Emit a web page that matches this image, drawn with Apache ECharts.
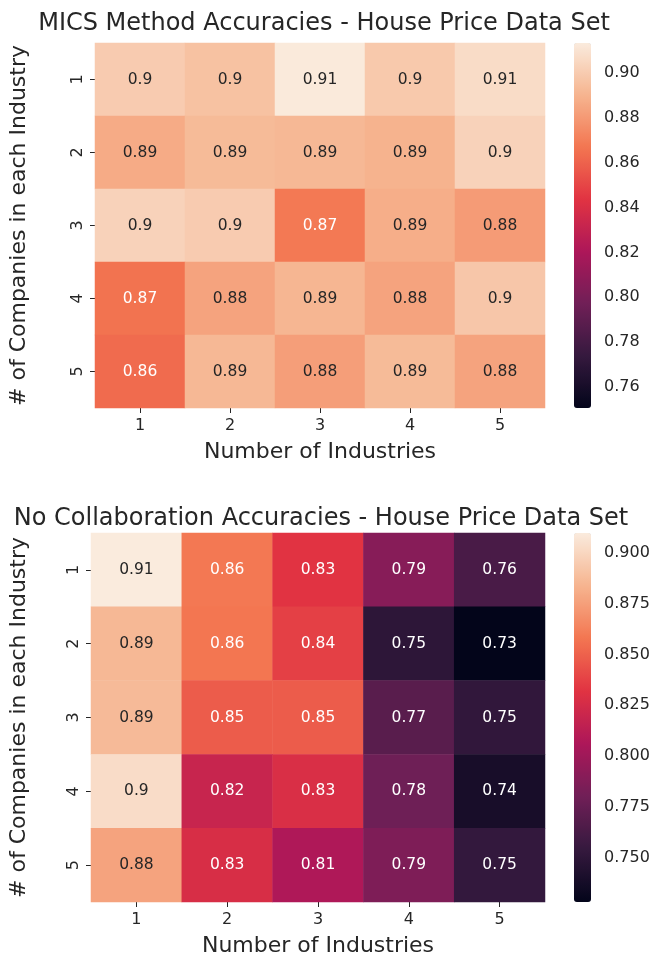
<!DOCTYPE html>
<html><head><meta charset="utf-8">
<script src="https://cdn.jsdelivr.net/npm/echarts@6/dist/echarts.min.js"></script>
<style>html,body{margin:0;padding:0;background:#fff}#c{width:655px;height:958px}</style>
</head><body><div id="c"></div>
<script>
// ---- data ----
const industries = ['1','2','3','4','5'];        // x categories (Number of Industries)
const companies = ['1','2','3','4','5'];         // y categories (# of Companies in each Industry)
const micsRow1 = [0.900, 0.896, 0.913, 0.899, 0.907];
const micsRow2 = [0.887, 0.893, 0.892, 0.890, 0.903];
const micsRow3 = [0.903, 0.900, 0.868, 0.888, 0.881];
const micsRow4 = [0.866, 0.884, 0.891, 0.884, 0.898];
const micsRow5 = [0.863, 0.892, 0.882, 0.893, 0.884];
const noCollabRow1 = [0.910, 0.859, 0.832, 0.790, 0.763];
const noCollabRow2 = [0.886, 0.858, 0.837, 0.750, 0.728];
const noCollabRow3 = [0.887, 0.848, 0.848, 0.770, 0.752];
const noCollabRow4 = [0.903, 0.819, 0.828, 0.779, 0.739];
const noCollabRow5 = [0.877, 0.827, 0.807, 0.786, 0.753];
const micsRange = [0.7505, 0.9135];
const noCollabRange = [0.728, 0.910];
const micsTicks = [0.76, 0.78, 0.80, 0.82, 0.84, 0.86, 0.88, 0.90];
const noCollabTicks = [0.750, 0.775, 0.800, 0.825, 0.850, 0.875, 0.900];
const titles = ['MICS Method Accuracies - House Price Data Set', 'No Collaboration Accuracies - House Price Data Set'];

// ---- style ----
const rocket = ['#03051a','#35193e','#701f57','#ad1759','#e13342','#f37651','#f6b48f','#faebdd'];
const TXT = '#262626';
const FONT = 'DejaVu Sans';
const TICK_FS = 16, ANNOT_FS = 15.5, NAME_FS = 22, TITLE_FS = 24;

function hex2rgb(h){return [parseInt(h.substr(1,2),16),parseInt(h.substr(3,2),16),parseInt(h.substr(5,2),16)];}
function cmap(t){
  t = Math.max(0, Math.min(1, t));
  const n = rocket.length - 1, p = t * n, i = Math.min(Math.floor(p), n - 1), f = p - i;
  const a = hex2rgb(rocket[i]), b = hex2rgb(rocket[i+1]);
  return a.map((v,k)=>v + (b[k]-v)*f);
}
function lum(rgb){
  const c = rgb.map(v=>{v/=255; return v<=0.03928? v/12.92 : Math.pow((v+0.055)/1.055,2.4);});
  return 0.2126*c[0]+0.7152*c[1]+0.0722*c[2];
}
function fmt2g(v){ return String(parseFloat(v.toPrecision(2))); }

function buildData(rows, range){
  const out = [];
  rows.forEach((row, r) => row.forEach((v, c) => {
    const col = cmap((v - range[0])/(range[1]-range[0]));
    out.push({value:[c, r, v], label:{color: lum(col) > 0.408 ? TXT : '#ffffff'}});
  }));
  return out;
}

const micsData = buildData([micsRow1,micsRow2,micsRow3,micsRow4,micsRow5], micsRange);
const ncData = buildData([noCollabRow1,noCollabRow2,noCollabRow3,noCollabRow4,noCollabRow5], noCollabRange);

const G = [
  {left:93, top:43, width:452, height:365},
  {left:88, top:533, width:457, height:369},
  {left:574, top:43, width:17, height:365},
  {left:574, top:533, width:17, height:369}
];

function catX(gi){
  return {type:'category', gridIndex:gi, data:industries,
    axisLine:{show:false}, axisTick:{show:true, alignWithLabel:true, length:5, lineStyle:{color:TXT}},
    axisLabel:{color:TXT, fontSize:TICK_FS, fontFamily:FONT, margin:10}, splitArea:{show:false},
    name:'Number of Industries', nameLocation:'middle', nameGap:33,
    nameTextStyle:{color:TXT, fontSize:NAME_FS, fontFamily:FONT}};
}
function catY(gi, gap){
  return {type:'category', gridIndex:gi, data:companies, inverse:true,
    axisLine:{show:false}, axisTick:{show:true, alignWithLabel:true, length:5, lineStyle:{color:TXT}},
    axisLabel:{color:TXT, fontSize:TICK_FS, fontFamily:FONT, rotate:90, margin:9},
    name:'# of Companies in each Industry', nameLocation:'middle', nameGap:gap,
    nameTextStyle:{color:TXT, fontSize:NAME_FS, fontFamily:FONT}};
}
function cbY(gi, range, ticks, dec){
  return {type:'value', gridIndex:gi, min:range[0], max:range[1], position:'right',
    axisLine:{show:false}, splitLine:{show:false},
    axisTick:{show:true, length:6, lineStyle:{color:TXT}, customValues:ticks},
    axisLabel:{color:TXT, fontSize:TICK_FS, fontFamily:FONT, margin:13, customValues:ticks,
      formatter:v=>Number(v).toFixed(dec)}};
}
function cbX(gi){ return {type:'value', gridIndex:gi, show:false}; }

const option = {
  animation:false,
  backgroundColor:'#ffffff',
  title:[
    {text:titles[0], left:319, top:7, textAlign:'center', textStyle:{color:TXT, fontSize:TITLE_FS, fontWeight:'normal', fontFamily:FONT}},
    {text:titles[1], left:316, top:502, textAlign:'center', textStyle:{color:TXT, fontSize:TITLE_FS, fontWeight:'normal', fontFamily:FONT}}
  ],
  grid:G,
  xAxis:[catX(0), catX(1), cbX(2), cbX(3)],
  yAxis:[catY(0, 65), catY(1, 61), cbY(2, micsRange, micsTicks, 2), cbY(3, noCollabRange, noCollabTicks, 3)],
  visualMap:[
    {type:'continuous', seriesIndex:0, min:micsRange[0], max:micsRange[1], calculable:false, text:['',''],
      inRange:{color:rocket}, orient:'vertical', left:574, top:43, itemWidth:17, itemHeight:365, padding:0, itemGap:0, showLabel:false},
    {type:'continuous', seriesIndex:1, min:noCollabRange[0], max:noCollabRange[1], calculable:false, text:['',''],
      inRange:{color:rocket}, orient:'vertical', left:574, top:533, itemWidth:17, itemHeight:369, padding:0, itemGap:0, showLabel:false}
  ],
  series:[
    {type:'heatmap', xAxisIndex:0, yAxisIndex:0, data:micsData,
      label:{show:true, fontSize:ANNOT_FS, fontFamily:FONT, formatter:p=>fmt2g(p.value[2])}, emphasis:{disabled:true}},
    {type:'heatmap', xAxisIndex:1, yAxisIndex:1, data:ncData,
      label:{show:true, fontSize:ANNOT_FS, fontFamily:FONT, formatter:p=>fmt2g(p.value[2])}, emphasis:{disabled:true}}
  ]
};
const chart = echarts.init(document.getElementById('c'), null, {renderer:'canvas'});
chart.setOption(option);
</script></body></html>
